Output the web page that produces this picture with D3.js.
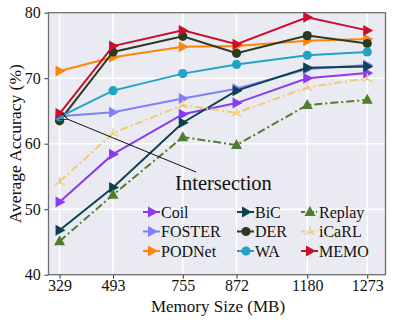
<!DOCTYPE html>
<html>
<head>
<meta charset="utf-8">
<script src="https://cdn.jsdelivr.net/npm/d3@7"></script>
<style>
  body { margin: 0; background: #fff; }
  text { font-family: "Liberation Serif", "DejaVu Serif", serif; fill: #111; }
</style>
</head>
<body>
<svg id="chart" width="393" height="323"></svg>
<script>
// memory sizes (tick labels) and where they sit on the x axis
var memLabels = ["329", "493", "755", "872", "1180", "1273"];
var memX = [329, 493, 707, 872, 1089, 1273];
var yTicks = [40, 50, 60, 70, 80];

var coil   = [51.1, 58.4, 64.5, 66.2, 70.0, 70.8];
var foster = [64.2, 64.8, 66.9, 68.4, 71.4, 72.0];
var podnet = [71.1, 73.2, 74.8, 74.9, 75.7, 76.0];
var bic    = [46.8, 53.3, 63.2, 68.1, 71.6, 71.8];
var der    = [63.5, 74.0, 76.4, 73.8, 76.5, 75.3];
var wa     = [64.1, 68.1, 70.7, 72.1, 73.5, 74.0];
var replay = [45.1, 52.2, 61.0, 59.8, 65.9, 66.7];
var icarl  = [54.2, 61.6, 65.9, 64.7, 68.6, 70.0];
var memo   = [64.6, 74.9, 77.3, 75.2, 79.3, 77.3];

var series = [
  {name: "Coil",   values: coil,   color: "#8b3cf0", marker: "right"},
  {name: "FOSTER", values: foster, color: "#8080fa", marker: "right"},
  {name: "PODNet", values: podnet, color: "#ff8506", marker: "right"},
  {name: "BiC",    values: bic,    color: "#0c4352", marker: "right"},
  {name: "DER",    values: der,    color: "#2c3b20", marker: "circle"},
  {name: "WA",     values: wa,     color: "#21a2c6", marker: "circle"},
  {name: "Replay", values: replay, color: "#517d2f", marker: "up", dash: "8,3,2,3"},
  {name: "iCaRL",  values: icarl,  color: "#f2c977", marker: "plus", dash: "8,3,2,3"},
  {name: "MEMO",   values: memo,   color: "#c8102e", marker: "right"}
];

var svg = d3.select("#chart");
var pLeft = 48.5, pRight = 385.5, pTop = 12.7, pBottom = 274.7;

var xScale = d3.scaleLinear().domain([295, 1329]).range([pLeft, pRight]);
var yScale = d3.scaleLinear().domain([40, 80]).range([pBottom, pTop]);

// background
svg.append("rect")
    .attr("x", pLeft).attr("y", pTop)
    .attr("width", pRight - pLeft).attr("height", pBottom - pTop)
    .attr("fill", "#eaeaf2");

// grid
svg.selectAll(".hgrid")
    .data(yTicks)
    .enter()
    .append("line")
    .attr("x1", pLeft).attr("x2", pRight)
    .attr("y1", function(d) { return yScale(d); })
    .attr("y2", function(d) { return yScale(d); })
    .style("stroke", "#fff").style("stroke-width", 1.5);
svg.selectAll(".vgrid")
    .data(memX)
    .enter()
    .append("line")
    .attr("y1", pTop).attr("y2", pBottom)
    .attr("x1", function(d) { return xScale(d); })
    .attr("x2", function(d) { return xScale(d); })
    .style("stroke", "#fff").style("stroke-width", 1.5);

// axes
var xAxis = d3.axisBottom(xScale)
    .tickValues(memX)
    .tickFormat(function(d, i) { return memLabels[i]; })
    .tickSize(4).tickSizeOuter(0);
var yAxis = d3.axisLeft(yScale)
    .tickValues(yTicks)
    .tickSize(4).tickSizeOuter(0);

var gx = svg.append("g")
    .attr("class", "x axis")
    .attr("transform", "translate(0," + pBottom + ")")
    .call(xAxis);
var gy = svg.append("g")
    .attr("class", "y axis")
    .attr("transform", "translate(" + pLeft + ",0)")
    .call(yAxis);
gx.select(".domain").remove();
gy.select(".domain").remove();
svg.selectAll(".axis text")
    .attr("font-family", "Liberation Serif, serif")
    .attr("font-size", "16px")
    .attr("fill", "#111");
gx.selectAll("text").attr("dy", "0.56em");
gy.selectAll("text").attr("dx", "-0.05em");
svg.selectAll(".axis line").style("stroke", "#333");

// frame
svg.append("rect")
    .attr("x", pLeft).attr("y", pTop)
    .attr("width", pRight - pLeft).attr("height", pBottom - pTop)
    .attr("fill", "none")
    .style("stroke", "#6e6e6e").style("stroke-width", 1.3);

// markers
function drawMarker(g, s, x, y) {
    if (s.marker == "circle") {
        g.append("circle").attr("cx", x).attr("cy", y).attr("r", 4.6).attr("fill", s.color);
    } else if (s.marker == "right") {
        g.append("path")
            .attr("d", "M" + (x + 6) + "," + y + "L" + (x - 4) + "," + (y - 5.5) + "L" + (x - 4) + "," + (y + 5.5) + "Z")
            .attr("fill", s.color);
    } else if (s.marker == "up") {
        g.append("path")
            .attr("d", "M" + x + "," + (y - 6) + "L" + (x - 5.5) + "," + (y + 4) + "L" + (x + 5.5) + "," + (y + 4) + "Z")
            .attr("fill", s.color);
    } else {
        g.append("path")
            .attr("d", "M" + x + "," + (y - 5) + "L" + x + "," + (y + 1) + "M" + (x - 5) + "," + (y + 3) + "L" + x + "," + (y + 1) + "L" + (x + 5) + "," + (y + 3))
            .attr("fill", "none")
            .style("stroke", s.color).style("stroke-width", 1.3);
    }
}

var line = d3.line()
    .x(function(d, i) { return xScale(memX[i]); })
    .y(function(d) { return yScale(d); });

series.forEach(function(s) {
    var g = svg.append("g");
    g.append("path")
        .datum(s.values)
        .attr("d", line)
        .attr("fill", "none")
        .style("stroke", s.color)
        .style("stroke-width", 2)
        .style("stroke-dasharray", s.dash || null);
    s.values.forEach(function(v, i) {
        drawMarker(g, s, xScale(memX[i]), yScale(v));
    });
});

// annotation
svg.append("defs").append("marker")
    .attr("id", "arrow")
    .attr("viewBox", "0 0 10 10")
    .attr("refX", 1).attr("refY", 5)
    .attr("markerWidth", 9).attr("markerHeight", 9)
    .attr("orient", "auto")
    .append("path")
    .attr("d", "M9,1L1,5L9,9")
    .attr("fill", "none")
    .style("stroke", "#111").style("stroke-width", 1);

svg.append("line")
    .attr("x1", 196).attr("y1", 172)
    .attr("x2", xScale(memX[0]) + 8).attr("y2", yScale(foster[0]) + 3)
    .style("stroke", "#111").style("stroke-width", 1)
    .attr("marker-end", "url(#arrow)");

svg.append("text")
    .attr("x", 223.5).attr("y", 190)
    .attr("text-anchor", "middle")
    .attr("font-size", "20.5px")
    .text("Intersection");

// legend
var legendX = [143, 237, 301];
series.forEach(function(s, i) {
    var col = Math.floor(i / 3), row = i % 3;
    var lx = legendX[col], ly = 212 + row * 19.5;
    var g = svg.append("g");
    g.append("line")
        .attr("x1", lx).attr("x2", lx + 17)
        .attr("y1", ly).attr("y2", ly)
        .style("stroke", s.color).style("stroke-width", 2)
        .style("stroke-dasharray", s.dash ? "4,2,1,2" : null);
    drawMarker(g, s, lx + 9, ly);
    g.append("text")
        .attr("x", lx + 18).attr("y", ly + 5.5)
        .attr("font-size", "16px")
        .text(s.name);
});

// axis labels
svg.append("text")
    .attr("x", 218).attr("y", 312)
    .attr("text-anchor", "middle")
    .attr("font-size", "17px")
    .text("Memory Size (MB)");

svg.append("text")
    .attr("transform", "translate(21," + ((pTop + pBottom) / 2) + ") rotate(-90)")
    .attr("text-anchor", "middle")
    .attr("font-size", "17.5px")
    .text("Average Accuracy (%)");
</script>
</body>
</html>
